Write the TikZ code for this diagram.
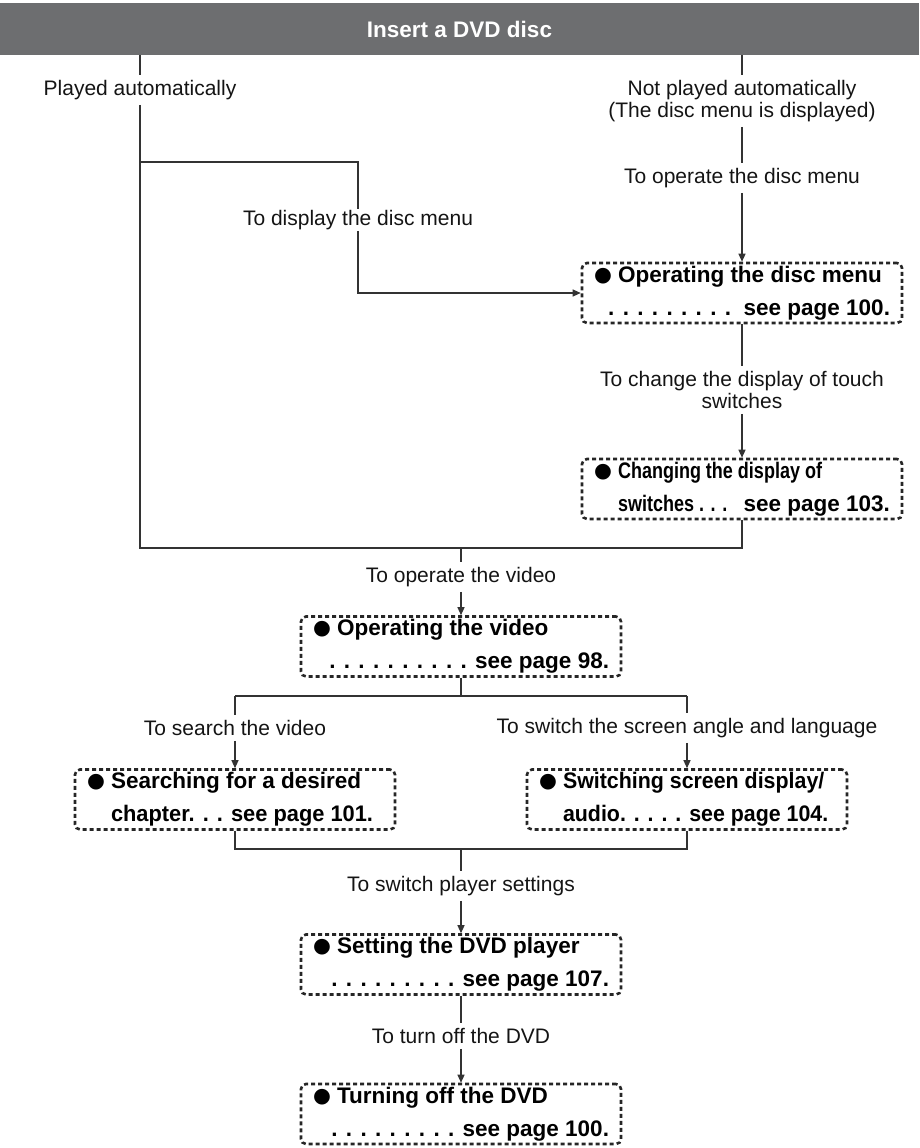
\documentclass[tikz,border=0pt]{standalone}
\usepackage{fontspec}
\setmainfont{Liberation Sans}
\newfontfamily\dejavu{DejaVu Sans}
\usepackage{graphicx}
\usetikzlibrary{arrows.meta}
\definecolor{hdrgray}{HTML}{6D6E70}
\definecolor{lncol}{HTML}{333333}
\newlength\bw \setlength\bw{296pt}
\newcommand\bulx{\makebox[24pt][l]{\raisebox{1.2pt}{\fontsize{20.5}{20}\selectfont\dejavu ●}}}
\newcommand\Lline[1]{\makebox[\bw][l]{#1}}
\newcommand\Rline[1]{\makebox[\bw][r]{#1}}
\begin{document}
\begin{tikzpicture}[x=1pt,y=-1pt,
  hdr/.style={fill=hdrgray, minimum width=919pt, minimum height=52pt, inner sep=0pt,
    text=white, font=\bfseries\fontsize{22.5}{27}\selectfont},
  lbl/.style={font=\fontsize{21}{22}\selectfont, text=black!92, inner xsep=2pt,
    inner ysep=5pt, align=center},
  dbox/.style={draw=black!85, line width=2.6pt, dash pattern=on 4pt off 3pt,
    rounded corners=5pt, minimum width=320pt, minimum height=60pt, inner sep=0pt,
    align=center, font=\bfseries\fontsize{22.5}{33}\selectfont},
  conn/.style={draw=lncol, line width=1.2pt},
  arr/.style={conn, -{Triangle[length=8pt,width=7pt]}}
]
\useasboundingbox (0,0) rectangle (919,1148);

% header
\node[hdr] (hdr) at (459.5,29) {Insert a DVD disc};

% labels
\node[lbl] (lA) at (140,90) {Played automatically};
\node[lbl] (lN) at (742,101) {Not played automatically\\(The disc menu is displayed)};
\node[lbl] (lO) at (742,178) {To operate the disc menu};
\node[lbl, inner ysep=1pt] (lD) at (358,220) {To display the disc menu};
\node[lbl] (lC) at (742,390) {To change the display of touch\\switches};
\node[lbl] (lV) at (461,577) {To operate the video};
\node[lbl] (lS4) at (235,728) {To search the video};
\node[lbl] (lS5) at (687,728) {To switch the screen angle and language};
\node[lbl] (lP) at (461,886) {To switch player settings};
\node[lbl] (lT) at (461,1036) {To turn off the DVD};

% boxes
\node[dbox] (b1) at (742,293)
  {\Lline{\bulx Operating the disc menu}\\\Rline{. . . . . . . . .\ \ see page 100.}};
\node[dbox] (b2) at (742,489)
  {\Lline{\bulx\scalebox{0.8}[1]{Changing the display of}}\\
   \Lline{\hspace*{24pt}\scalebox{0.8}[1]{switches . . .}\hfill see page 103.}};
\node[dbox] (b3) at (461,646.5)
  {\Lline{\bulx Operating the video}\\\Rline{. . . . . . . . . . see page 98.}};
\node[dbox] (b4) at (235,799.5)
  {\Lline{\bulx Searching for a desired}\\
   \Lline{\hspace*{24pt}\scalebox{0.97}[1]{chapter. . . see page 101.}}};
\node[dbox] (b5) at (687,799.5)
  {\Lline{\bulx\scalebox{0.95}[1]{Switching screen display/}}\\
   \Lline{\hspace*{24pt}\scalebox{0.95}[1]{audio. . . . . see page 104.}}};
\node[dbox] (b6) at (461,964.5)
  {\Lline{\bulx Setting the DVD player}\\\Rline{. . . . . . . . . see page 107.}};
\node[dbox] (b7) at (461,1114)
  {\Lline{\bulx Turning off the DVD}\\\Rline{. . . . . . . . . see page 100.}};

% junction coordinates
\coordinate (jL) at (140,162);
\coordinate (bR) at (358,162);
\coordinate (jBL) at (140,548);
\coordinate (jBR) at (742,548);
\coordinate (jBM) at (461,548);
\coordinate (jS) at (461,696);
\coordinate (jS4) at (235,696);
\coordinate (jS5) at (687,696);
\coordinate (jM4) at (235,849);
\coordinate (jM5) at (687,849);
\coordinate (jMM) at (461,849);

% connectors
\draw[conn] (hdr.south -| lA) -- (lA);
\draw[conn] (lA) -- (jL) -- (jBL) -- (jBR) -- (b2);
\draw[conn] (jL) -- (bR) -- (lD);
\draw[arr] (lD) |- (b1);
\draw[conn] (hdr.south -| lN) -- (lN);
\draw[conn] (lN) -- (lO);
\draw[arr] (lO) -- (b1);
\draw[conn] (b1) -- (lC);
\draw[arr] (lC) -- (b2);
\draw[conn] (jBM) -- (lV);
\draw[arr] (lV) -- (b3);
\draw[conn] (b3) -- (jS);
\draw[conn] (jS4) -- (jS5);
\draw[conn] (jS4) -- (lS4);
\draw[arr] (lS4) -- (b4);
\draw[conn] (jS5) -- (lS5);
\draw[arr] (lS5) -- (b5);
\draw[conn] (b4) -- (jM4) -- (jM5) -- (b5);
\draw[conn] (jMM) -- (lP);
\draw[arr] (lP) -- (b6);
\draw[conn] (b6) -- (lT);
\draw[arr] (lT) -- (b7);
\end{tikzpicture}
\end{document}
